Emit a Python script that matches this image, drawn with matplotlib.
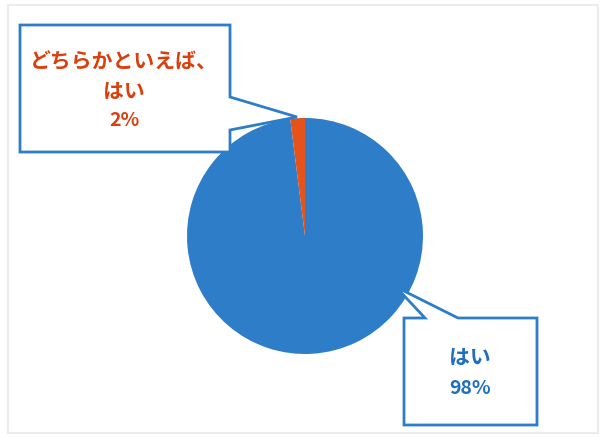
import matplotlib.pyplot as plt
from matplotlib.patches import Polygon, Rectangle

plt.rcParams['font.family'] = ['Noto Sans CJK JP', 'DejaVu Sans']

labels = ["はい", "どちらかといえば、\nはい"]
values = [98, 2]
pcts = ["98%", "2%"]
colors = ["#2E7DC9", "#E5531A"]

W, H = 601, 438
fig = plt.figure(figsize=(W / 100, H / 100), dpi=100)

# overlay axes in pixel coords (y down)
bg = fig.add_axes([0, 0, 1, 1])
bg.set_xlim(0, W)
bg.set_ylim(H, 0)
bg.axis("off")
bg.add_patch(Rectangle((8, 5), 590, 428, fill=False, ec="#ececec", lw=1.5))

# pie axes: center (305, 236), radius ~118 px
cx, cy, r = 305, 236, 118
pax = fig.add_axes([(cx - r) / W, (H - cy - r) / H, 2 * r / W, 2 * r / H], zorder=1)
pax.pie(values, colors=colors, startangle=90, counterclock=False,
        wedgeprops=dict(linewidth=0))
pax.set_aspect("auto")
pax.set_xlim(-1, 1)
pax.set_ylim(-1, 1)
pax.axis("off")

top = fig.add_axes([0, 0, 1, 1], zorder=2)
top.set_xlim(0, W)
top.set_ylim(H, 0)
top.axis("off")
top.patch.set_alpha(0)

box_col = "#2E7DC9"
# callout for the small slice
c1 = [(20, 25), (230, 25), (230, 97), (297, 117), (230, 130), (230, 152), (20, 152)]
top.add_patch(Polygon(c1, closed=True, fc="white", ec=box_col, lw=2))
for i, line in enumerate(labels[1].split("\n")):
    top.text(124, 62 + 29 * i, line, ha="center", va="center", color="#D9400E",
             fontsize=15, fontweight="bold")
top.text(124, 121, pcts[1], ha="center", va="center", color="#D9400E",
         fontsize=14, fontweight="bold")

# callout for the big slice
c2 = [(404, 318), (425, 318), (396, 287), (458, 318), (537, 318), (537, 425), (404, 425)]
top.add_patch(Polygon(c2, closed=True, fc="white", ec=box_col, lw=2))
top.text(470, 357, labels[0], ha="center", va="center", color="#1F6FC0",
         fontsize=15, fontweight="bold")
top.text(470, 389, pcts[0], ha="center", va="center", color="#1F6FC0",
         fontsize=14, fontweight="bold")

fig.savefig("out.png", dpi=100)
